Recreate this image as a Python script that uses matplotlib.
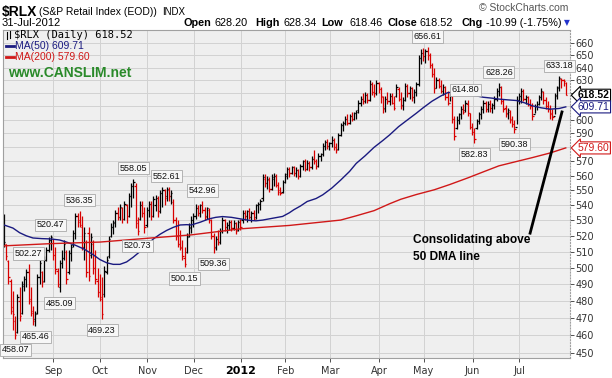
import matplotlib
matplotlib.use("Agg")
import matplotlib.pyplot as plt
from matplotlib.lines import Line2D

W, H = 612, 378

# Daily bars, 1-Aug-2011 .. 31-Jul-2012 (trading-day index)
opens = [
    # Aug
    530, 515, 504, 492, 476, 468, 462, 480, 473, 489, 493, 497, 481, 474, 469, 473, 494, 497, 492, 505, 511, 517, 518,
    # Sep
    508, 498, 488, 503, 506, 510, 497, 509, 514, 522, 533, 530, 526, 513, 516, 522, 508, 515, 500, 492, 485,
    # Oct
    481, 484, 497, 507, 520, 526, 528, 535, 532, 538, 531, 540, 533, 546, 553, 553, 528, 531, 540, 535, 527,
    # Nov
    537, 541, 533, 540, 545, 536, 548, 550, 546, 550, 546, 542, 530, 520, 515, 512, 506, 510, 520, 525, 530,
    # Dec
    533, 538, 535, 540, 537, 533, 537, 530, 520, 513, 518, 516, 523, 530, 526, 527, 529, 525, 528, 524, 529,
    # Jan
    530, 535, 533, 536, 532, 535, 532, 540, 541, 545, 558, 555, 557, 551, 558, 560, 554, 550, 549, 556,
    # Feb
    561, 565, 562, 566, 562, 564, 560, 567, 570, 565, 569, 566, 572, 570, 567, 574, 575, 581, 584, 581,
    # Mar
    583, 585, 580, 579, 589, 596, 598, 601, 598, 603, 601, 605, 607, 613, 616, 614, 619, 615, 627, 621, 620, 628,
    # Apr
    623, 617, 609, 616, 614, 618, 613, 618, 623, 616, 611, 615, 626, 620, 624, 617, 621, 627, 648, 652,
    # May
    649, 653, 650, 642, 635, 624, 630, 626, 622, 625, 617, 613, 618, 601, 594, 600, 604, 608, 607, 612, 605, 595,
    # Jun
    591, 594, 599, 604, 608, 613, 608, 612, 609, 611, 616, 622, 625, 614, 609, 605, 606, 601, 597, 595, 615,
    # Jul
    618, 622, 616, 617, 612, 610, 604, 610, 612, 617, 621, 615, 610, 608, 605, 603, 619, 625, 631, 630, 628.20,
]
highs = [
    534, 515, 505, 493, 486, 471, 484, 488, 492, 495, 499, 502.27, 488, 477, 474, 496, 505, 498, 507, 513, 519, 520.47, 518,
    513, 500, 505, 511, 517, 511, 511, 515, 524, 535, 535, 536.35, 533, 526, 517, 526, 522, 517, 511, 500, 496,
    494, 501, 507, 520, 528, 530, 537, 539, 541, 539, 543, 541, 548, 555, 558.05, 555, 532, 543, 543, 539, 539,
    543, 543, 546, 547, 546, 550, 552, 551, 552.61, 552, 550, 544, 532, 530, 524, 517, 513, 522, 528, 533, 535,
    541, 540, 541, 542.96, 539, 539, 538, 531, 522, 520, 524, 525, 532, 531, 529, 530, 530, 530, 529, 530, 531,
    537, 537, 537, 538, 536, 537, 541, 542, 544, 561, 561, 560, 559, 561, 562, 561, 556, 552, 557, 562,
    566, 566, 567, 567, 566, 565, 568, 571, 572, 571, 570, 574, 578, 572, 576, 576, 583, 585.5, 586, 584,
    588, 587, 583, 590, 598, 599, 603, 604, 604, 606, 606, 607, 615, 618, 620, 621, 620, 630, 629, 627, 630, 629,
    625, 618, 618, 621, 620, 620, 618, 627, 625, 621, 617, 628, 627, 626, 625, 623, 629, 650, 655, 656,
    655, 656.61, 652, 644, 640, 633, 632, 630, 627, 626, 622, 620, 618, 603, 603, 605, 610, 612, 614.80, 615, 605, 598,
    594, 600.5, 606, 610, 615, 614, 614, 615, 613, 618, 624, 628.26, 626, 616, 611, 609, 607, 603, 600, 618, 620,
    624, 623, 619, 618, 616, 613, 612, 614, 619, 624, 622, 617, 614, 611, 608, 620, 626, 633.18, 632, 631, 628.34,
]
lows = [
    513, 505, 490, 472, 463, 458.07, 461, 468, 472, 486, 488, 478, 471, 466, 465.46, 472, 490, 488, 491, 504, 510, 511, 505,
    496, 488, 485.09, 500, 505, 490, 496, 504, 513, 518, 526, 526, 511, 505, 494, 492, 506, 496, 490, 482, 480,
    469.23, 482, 496, 506, 519, 521, 526, 530, 530, 528, 530, 528, 532, 539, 545, 525, 520.73, 530, 532, 522, 526,
    532, 530, 532, 536, 532, 535, 539, 540, 543, 543, 541, 528, 517, 513, 511, 505, 500.15, 509, 519, 522, 526,
    531, 533, 532, 535, 530, 531, 528, 518, 509.36, 511, 514, 515, 522, 523, 522, 524, 523, 524, 521, 523, 524,
    528, 530, 529, 531, 529, 530, 531, 535, 537, 543, 552, 551, 549, 550, 553, 552, 547, 547, 548, 555,
    558, 559, 561, 560, 559, 558, 559, 564, 563, 564, 563, 565, 568, 565, 566, 570, 574, 578, 579, 578,
    580, 578, 576, 578, 588, 592, 596, 596, 597, 599, 600, 601, 605, 610, 612, 613, 613, 614, 619, 617, 619, 620,
    613, 605, 606, 612, 611, 612, 607, 617, 614, 608, 607, 614, 617, 616, 614, 613, 618, 626, 643, 645,
    644, 646, 640, 633, 620, 624, 624, 620, 619, 615, 611, 614, 598, 585, 593, 597, 601, 604, 606, 603, 593, 589,
    582.83, 593, 597, 601, 605, 606, 606, 606, 605, 608, 614, 618, 612, 606, 602, 601, 598, 595, 590.38, 597, 612,
    613, 614, 612, 610, 608, 600, 605, 607, 611, 615, 612, 608, 606, 601, 600, 604, 616, 622, 624, 626, 618.46,
]
closes = [
    516, 507, 494, 474, 472, 460, 482, 471, 490, 493, 497, 480, 473, 468, 472, 494, 503, 491, 505, 511, 517, 519, 508,
    499, 490, 503, 506, 515, 493, 509, 513, 522, 533, 529, 527, 513, 522, 497, 495, 519, 500, 493, 485, 482,
    472, 498, 505, 518, 526, 529, 535, 532, 539, 531, 541, 533, 546, 553, 556, 530, 523, 540, 535, 526, 537,
    541, 533, 544, 545, 536, 548, 550, 545, 551, 546, 548, 530, 520, 515, 513, 507, 502, 519, 526, 530, 533,
    538, 535, 540, 537, 532, 538, 530, 520, 512, 518, 516, 523, 530, 526, 527, 529, 525, 528, 523, 529, 526,
    535, 533, 536, 532, 535, 531, 540, 541, 543, 559, 555, 558, 551, 559, 560, 554, 549, 548, 556, 560,
    565, 562, 566, 562, 564, 560, 567, 570, 565, 569, 566, 572, 570, 567, 574, 575, 581, 584, 581, 583,
    585, 580, 578, 589, 596, 598, 601, 598, 603, 601, 605, 606, 613, 616, 614, 619, 615, 627, 621, 620, 628, 623,
    618, 608, 616, 614, 618, 613, 609, 625, 616, 610, 615, 626, 620, 624, 617, 621, 627, 648, 652, 649,
    653, 650, 642, 635, 624, 630, 626, 622, 625, 617, 613, 618, 601, 588, 600, 604, 608, 606, 613, 605, 595, 591,
    586, 599, 604, 608, 613, 608, 612, 609, 611, 616, 622, 625, 614, 608, 604, 607, 600, 597, 593, 615, 618,
    622, 616, 617, 612, 610, 603, 610, 612, 617, 622, 615, 610, 608, 604, 602, 618, 624, 632, 630, 629.51, 618.52,
]

# moving averages at a few bar positions
ma50_idx = [0, 4, 7, 10, 13, 17, 21, 25, 28, 32, 36, 40, 43, 46, 49, 52, 55, 58, 61, 64, 67, 70, 73,
            76, 79, 82, 84, 88, 92, 95, 98, 102, 106, 110, 113, 116, 119, 122, 125, 128, 130, 133,
            136, 140, 143, 147, 151, 155, 158, 162, 166, 170, 173, 177, 181, 185, 188, 192, 196, 199,
            203, 208, 212, 215, 219, 222, 226, 230, 234, 237, 241, 245, 249, 252]
ma50_val = [527, 525, 522, 520, 518.6, 518.2, 518, 517.3, 516, 514, 511.5, 508, 505, 503, 502, 502,
            503.5, 506.5, 510, 514, 518, 521, 523.5, 525.5, 527, 527.2, 527, 528.8, 531, 532, 532.5,
            532, 531, 530, 529.7, 530.2, 531, 531.8, 532.6, 535, 537, 539.5, 542.5, 544.5, 547, 551.5,
            557, 563, 568.6, 574, 580, 585, 589, 595, 600, 605, 609, 614, 618, 620.5, 621, 619, 618,
            617, 616.3, 615.6, 615, 614.5, 612.5, 610.5, 609, 608, 608.5, 609.71]
ma200_idx = [0, 21, 43, 65, 84, 106, 128, 151, 158, 166, 173, 178, 185, 193, 200, 208, 215, 222,
             230, 237, 245, 252]
ma200_val = [513.6, 515, 516, 518.5, 520.6, 524.5, 526.7, 530.2, 533, 536.4, 541, 544, 547.2, 550.4,
             554, 558.5, 562.7, 566.9, 570, 572.7, 576, 579.60]

month_start = [23, 44, 65, 86, 107, 127, 147, 169, 189, 211, 232]
month_names = ["Sep", "Oct", "Nov", "Dec", "2012", "Feb", "Mar", "Apr", "May", "Jun", "Jul"]

# labelled swing points: (bar, value, above?)
swings = [(5, 458.07, False), (14, 465.46, False), (11, 502.27, True), (25, 485.09, False),
          (21, 520.47, True), (34, 536.35, True), (44, 469.23, False), (58, 558.05, True),
          (60, 520.73, False), (73, 552.61, True), (81, 500.15, False), (89, 542.96, True),
          (94, 509.36, False), (190, 656.61, True), (207, 614.80, True), (211, 582.83, False),
          (222, 628.26, True), (229, 590.38, False), (249, 633.18, True)]

plt.rcParams['font.family'] = ['Liberation Sans', 'DejaVu Sans']

fig = plt.figure(figsize=(W / 100, H / 100), dpi=100)
fig.patch.set_facecolor('white')
ax = fig.add_axes([3 / W, 20 / H, 567 / W, 328 / H])
ax.set_facecolor('#efefef')

n = len(closes)
idx = list(range(n))
colors = ['black' if i == 0 or closes[i] >= closes[i - 1] else '#d80000' for i in idx]

ax.vlines(idx, lows, highs, colors=colors, lw=0.9)
ax.hlines(opens, [i - 0.55 for i in idx], idx, colors=colors, lw=0.9)
ax.hlines(closes, idx, [i + 0.55 for i in idx], colors=colors, lw=0.9)

ax.plot(ma50_idx, ma50_val, color='#1a1a80', lw=1.0)
ax.plot(ma200_idx, ma200_val, color='#d01818', lw=1.0)

ax.set_yscale('log')
ax.set_ylim(447.2, 670.4)
ax.set_xlim(-0.45, 253.9)

yt = list(range(450, 661, 10))
ax.set_yticks(yt)
ax.set_yticklabels(['' if v in (580, 610, 620) else str(v) for v in yt])
ax.minorticks_off()
ax.yaxis.tick_right()
ax.tick_params(axis='y', length=3, pad=1, labelsize=7, colors='#333333', width=0.6)
for t in ax.get_yticklabels():
    t.set_family('DejaVu Sans')

gx = [m - 0.8 for m in month_start]
ax.set_xticks(gx)
ax.set_xticklabels(month_names)
ax.tick_params(axis='x', length=3, pad=3, labelsize=7, colors='#333333', width=0.6)
for t in ax.get_xticklabels():
    t.set_family('DejaVu Sans')
    if t.get_text() == '2012':
        t.set_fontweight('bold')
        t.set_fontsize(8)
        t.set_color('black')

ax.grid(True, color='#d2d2d2', lw=0.7)
ax.set_axisbelow(True)
for s in ax.spines.values():
    s.set_color('#a0a0a0')
    s.set_linewidth(0.8)
ax.spines['right'].set_linestyle(':')

# swing labels
for i, v, above in swings:
    off = 7.5 if above else -8
    ax.annotate(f'{v:.2f}', xy=(i, v), xytext=(0, off), textcoords='offset points',
                ha='center', va='center', fontsize=6.5, color='#111111',
                bbox=dict(boxstyle='square,pad=0.18', fc='#f7f7f7', ec='#a8a8a8', lw=0.6))

# last value tags on the right axis
for v, c, w in [(618.52, 'black', 'bold'), (609.71, '#1a1a80', 'normal'), (579.60, '#d01818', 'normal')]:
    ax.annotate(f'{v:.2f}', xy=(1, v), xycoords=('axes fraction', 'data'), xytext=(5.5, 0),
                textcoords='offset points', ha='left', va='center', fontsize=7.5,
                fontweight=w, color=c, annotation_clip=False,
                bbox=dict(boxstyle='larrow,pad=0.1', fc='white', ec=c, lw=0.8))

# note and trend line
ax.plot([236.0, 250.3], [521.7, 605.9], color='black', lw=2)
ax.text(183.5, 517.2, 'Consolidating above', fontsize=8.6, fontweight='bold', va='center')
ax.text(183.5, 506.6, '50 DMA line', fontsize=8.6, fontweight='bold', va='center')


def px(x, y):
    return x / W, 1 - y / H


# header
fig.text(*px(2, 12), '$RLX', fontsize=10, fontweight='bold', va='center')
fig.text(*px(39, 12), '(S&P Retail Index (EOD))', fontsize=7.5, va='center')
fig.text(*px(162, 12), 'INDX', fontsize=7, va='center')
fig.text(*px(568, 8), '\u00a9 StockCharts.com', fontsize=7.5, color='#555555', va='center', ha='right')
fig.text(*px(2, 23), '31-Jul-2012', fontsize=8, va='center')

parts = [(183, 'Open', 'bold'), (215, '628.20', 'normal'), (255, 'High', 'bold'),
         (283, '628.34', 'normal'), (321, 'Low', 'bold'), (349, '618.46', 'normal'),
         (387, 'Close', 'bold'), (419, '618.52', 'normal'), (461, 'Chg', 'bold'),
         (486, '-10.99 (-1.75%)', 'normal')]
for x, s, w in parts:
    fig.text(*px(x, 23), s, fontsize=7.8, fontweight=w, va='center')
fig.text(*px(567, 23), '\u25bc', fontsize=5.5, color='#2233cc', va='center', ha='center',
         family='DejaVu Sans')

# legend block
for xx, y0, y1 in [(6.5, 32, 39), (10, 31, 38)]:
    fig.add_artist(Line2D([xx / W, xx / W], [1 - y0 / H, 1 - y1 / H], color='black', lw=0.8))
fig.text(*px(14, 35), '$RLX (Daily) 618.52', fontsize=7.5, va='center', family='DejaVu Sans Mono')
fig.add_artist(Line2D([6 / W, 14 / W], [1 - 46 / H] * 2, color='#1a1a80', lw=2))
fig.text(*px(15, 46), 'MA(50) 609.71', fontsize=7.5, va='center', color='#1a1a80')
fig.add_artist(Line2D([6 / W, 14 / W], [1 - 57 / H] * 2, color='#d01818', lw=2))
fig.text(*px(15, 57), 'MA(200) 579.60', fontsize=7.5, va='center', color='#d01818')
fig.text(*px(8, 73), 'www.CANSLIM.net', fontsize=10, fontweight='bold', va='center', color='#2a8a2a')

fig.savefig('out.png', dpi=100)
